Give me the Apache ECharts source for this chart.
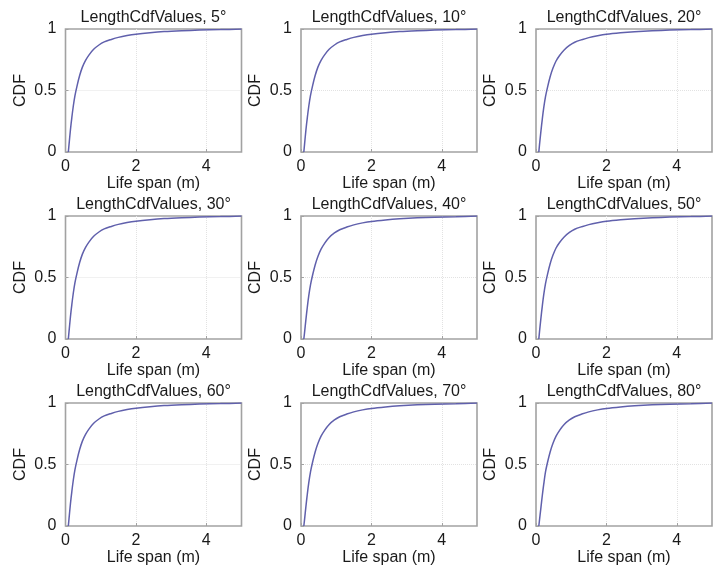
<!DOCTYPE html>
<html>
<head>
<meta charset="utf-8">
<script src="https://cdn.jsdelivr.net/npm/echarts@6/dist/echarts.min.js"></script>
<style>
html,body{margin:0;padding:0;background:#fff;}
#c{width:716px;height:567px;}
</style>
</head>
<body>
<div id="c"></div>
<script>
// ---- data ----
var angles = ['5°', '10°', '20°', '30°', '40°', '50°', '60°', '70°', '80°'];
var lifeSpan = [0.08, 0.10, 0.14, 0.18, 0.22, 0.27, 0.33, 0.40, 0.48, 0.57, 0.67, 0.80, 0.95, 1.10, 1.30, 1.50, 1.75, 2.00, 2.40, 2.80, 3.30, 3.80, 4.40, 5.00];
var cdf5  = [0, 0.06, 0.18, 0.28, 0.37, 0.46, 0.54, 0.62, 0.69, 0.745, 0.790, 0.835, 0.870, 0.895, 0.915, 0.932, 0.947, 0.958, 0.970, 0.979, 0.986, 0.991, 0.995, 0.999];
var cdf10 = [0, 0.06, 0.18, 0.28, 0.37, 0.46, 0.54, 0.62, 0.69, 0.745, 0.790, 0.835, 0.870, 0.895, 0.915, 0.932, 0.947, 0.958, 0.970, 0.979, 0.986, 0.991, 0.995, 0.999];
var cdf20 = [0, 0.06, 0.17, 0.27, 0.36, 0.45, 0.53, 0.61, 0.68, 0.740, 0.785, 0.830, 0.866, 0.892, 0.913, 0.930, 0.945, 0.957, 0.969, 0.978, 0.986, 0.991, 0.995, 0.999];
var cdf30 = [0, 0.06, 0.18, 0.28, 0.37, 0.46, 0.54, 0.62, 0.69, 0.745, 0.790, 0.835, 0.870, 0.895, 0.915, 0.932, 0.947, 0.958, 0.970, 0.979, 0.986, 0.991, 0.995, 0.999];
var cdf40 = [0, 0.05, 0.16, 0.26, 0.35, 0.44, 0.52, 0.60, 0.67, 0.730, 0.778, 0.825, 0.862, 0.888, 0.910, 0.928, 0.944, 0.956, 0.968, 0.977, 0.985, 0.990, 0.994, 0.999];
var cdf50 = [0, 0.06, 0.17, 0.27, 0.36, 0.45, 0.53, 0.61, 0.68, 0.740, 0.785, 0.830, 0.866, 0.892, 0.913, 0.930, 0.945, 0.957, 0.969, 0.978, 0.986, 0.991, 0.995, 0.999];
var cdf60 = [0, 0.06, 0.18, 0.28, 0.37, 0.46, 0.54, 0.62, 0.69, 0.745, 0.790, 0.835, 0.870, 0.895, 0.915, 0.932, 0.947, 0.958, 0.970, 0.979, 0.986, 0.991, 0.995, 0.999];
var cdf70 = [0, 0.05, 0.16, 0.26, 0.35, 0.44, 0.52, 0.60, 0.67, 0.730, 0.778, 0.825, 0.862, 0.888, 0.910, 0.928, 0.944, 0.956, 0.968, 0.977, 0.985, 0.990, 0.994, 0.999];
var cdf80 = [0, 0.05, 0.15, 0.25, 0.34, 0.44, 0.52, 0.60, 0.67, 0.730, 0.778, 0.825, 0.862, 0.888, 0.910, 0.928, 0.944, 0.956, 0.968, 0.977, 0.985, 0.990, 0.994, 0.999];
var cdfSets = [cdf5, cdf10, cdf20, cdf30, cdf40, cdf50, cdf60, cdf70, cdf80];
var xTicks = [0, 2, 4];
var yTicks = [0, 0.5, 1];
var titlePrefix = 'LengthCdfValues, ';
var xName = 'Life span (m)';
var yName = 'CDF';

// ---- layout ----
var colLeft = [65.5, 301, 536];
var rowTop = [29, 216, 403];
var plotW = 176, plotH = 123;
var FONT = "'Liberation Sans', Arial, sans-serif";
var TXT = '#1a1a1a';
var BORDER = '#a2a2a2';

var grids = [], xAxes = [], yAxes = [], series = [], graphics = [];
for (var i = 0; i < 9; i++) {
  var r = Math.floor(i / 3), c = i % 3;
  grids.push({
    left: colLeft[c], top: rowTop[r], width: plotW, height: plotH,
    show: true, borderColor: BORDER, borderWidth: 1.6, backgroundColor: '#fff', z: 0
  });
  xAxes.push({
    type: 'value', gridIndex: i, min: 0, max: 5, interval: 2,
    name: xName, nameLocation: 'middle', nameGap: 22,
    nameTextStyle: {fontFamily: FONT, fontSize: 16, color: TXT},
    axisLine: {show: false},
    axisTick: {show: true, inside: true, length: 3, lineStyle: {color: BORDER}},
    axisLabel: {fontFamily: FONT, fontSize: 16, color: TXT, margin: 7, showMaxLabel: false,
      formatter: function (v) { return xTicks.indexOf(v) >= 0 ? String(v) : ''; }},
    splitLine: {show: true, showMinLine: false, showMaxLine: false,
      lineStyle: {color: '#e2e2e2', type: 'dotted', width: 1}}
  });
  yAxes.push({
    type: 'value', gridIndex: i, min: 0, max: 1, interval: 0.5,
    name: yName, nameLocation: 'middle', nameGap: 37, nameRotate: 90,
    nameTextStyle: {fontFamily: FONT, fontSize: 16, color: TXT},
    axisLine: {show: false},
    axisTick: {show: true, inside: true, length: 3, lineStyle: {color: BORDER}},
    axisLabel: {fontFamily: FONT, fontSize: 16, color: TXT, margin: 9,
      formatter: function (v) { return yTicks.indexOf(v) >= 0 ? String(v) : ''; }},
    splitLine: {show: true, showMinLine: false, showMaxLine: false,
      lineStyle: {color: '#e2e2e2', type: 'dotted', width: 1}}
  });
  var pts = [];
  for (var k = 0; k < lifeSpan.length; k++) pts.push([lifeSpan[k], cdfSets[i][k]]);
  series.push({
    type: 'line', xAxisIndex: i, yAxisIndex: i, data: pts,
    showSymbol: false, smooth: 0.3, silent: true,
    lineStyle: {color: '#6060ac', width: 1.5}
  });
  graphics.push({
    type: 'text', x: colLeft[c] + plotW / 2, y: rowTop[r] - 11,
    style: {text: titlePrefix + angles[i], textAlign: 'center', textVerticalAlign: 'middle',
      font: '16px ' + FONT, fill: TXT}
  });
}

var chart = echarts.init(document.getElementById('c'), null, {renderer: 'canvas'});
chart.setOption({
  animation: false,
  backgroundColor: '#fff',
  grid: grids, xAxis: xAxes, yAxis: yAxes, series: series, graphic: graphics
});
</script>
</body>
</html>
